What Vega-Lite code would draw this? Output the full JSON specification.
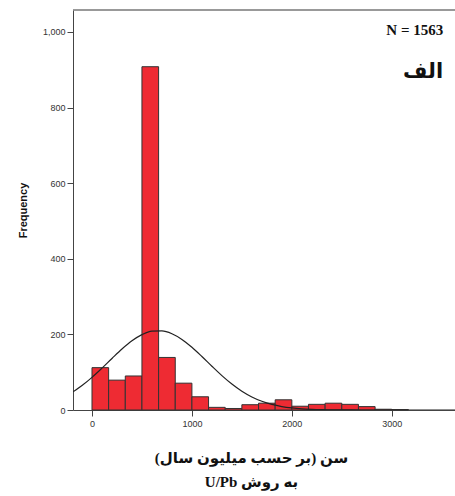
{
  "$schema": "https://vega.github.io/schema/vega-lite/v6.json",
  "width": 382,
  "height": 400,
  "autosize": "none",
  "padding": {"left": 73, "top": 10, "right": 0, "bottom": 86},
  "background": "white",
  "config": {
    "view": {"stroke": null},
    "axis": {
      "grid": false,
      "domainColor": "#444",
      "tickColor": "#444",
      "tickSize": 6,
      "labelColor": "#333",
      "labelFont": "Liberation Sans",
      "labelFontSize": 9,
      "titleColor": "#111"
    }
  },
  "datasets": {
    "bins": [
      {"start": 0, "end": 166.67, "count": 112},
      {"start": 166.67, "end": 333.33, "count": 79},
      {"start": 333.33, "end": 500, "count": 90},
      {"start": 500, "end": 666.67, "count": 908},
      {"start": 666.67, "end": 833.33, "count": 139},
      {"start": 833.33, "end": 1000, "count": 71},
      {"start": 1000, "end": 1166.67, "count": 35},
      {"start": 1166.67, "end": 1333.33, "count": 7},
      {"start": 1333.33, "end": 1500, "count": 4},
      {"start": 1500, "end": 1666.67, "count": 14},
      {"start": 1666.67, "end": 1833.33, "count": 18},
      {"start": 1833.33, "end": 2000, "count": 27},
      {"start": 2000, "end": 2166.67, "count": 10},
      {"start": 2166.67, "end": 2333.33, "count": 15},
      {"start": 2333.33, "end": 2500, "count": 18},
      {"start": 2500, "end": 2666.67, "count": 15},
      {"start": 2666.67, "end": 2833.33, "count": 9},
      {"start": 2833.33, "end": 3000, "count": 2},
      {"start": 3000, "end": 3166.67, "count": 1}
    ],
    "curve": [
      {"age": -190, "freq": 48},
      {"age": -100, "freq": 64.6},
      {"age": 0, "freq": 86.3},
      {"age": 100, "freq": 110.7},
      {"age": 200, "freq": 136.3},
      {"age": 300, "freq": 161.2},
      {"age": 400, "freq": 182.9},
      {"age": 500, "freq": 199.3},
      {"age": 600, "freq": 208.5},
      {"age": 700, "freq": 209.3},
      {"age": 800, "freq": 201.8},
      {"age": 900, "freq": 186.7},
      {"age": 1000, "freq": 165.9},
      {"age": 1100, "freq": 141.5},
      {"age": 1200, "freq": 115.8},
      {"age": 1300, "freq": 91.0},
      {"age": 1400, "freq": 68.7},
      {"age": 1500, "freq": 49.7},
      {"age": 1600, "freq": 34.6},
      {"age": 1700, "freq": 23.1},
      {"age": 1800, "freq": 14.8},
      {"age": 1900, "freq": 9.1},
      {"age": 2000, "freq": 5.4},
      {"age": 2100, "freq": 3.0},
      {"age": 2200, "freq": 1.7},
      {"age": 2300, "freq": 0.9},
      {"age": 2400, "freq": 0.4},
      {"age": 2600, "freq": 0.1},
      {"age": 2800, "freq": 0},
      {"age": 3633, "freq": 0}
    ],
    "notes": [
      {"ax": 3515, "ay": 1005, "label": "N = 1563", "size": 15},
      {"ax": 3515, "ay": 893, "label": "الف", "size": 21}
    ]
  },
  "layer": [
    {
      "data": {"name": "bins"},
      "mark": {"type": "bar", "fill": "#ee2b33", "stroke": "#333", "strokeWidth": 1},
      "encoding": {
        "x": {
          "field": "start",
          "type": "quantitative",
          "scale": {"domain": [-190, 3633], "nice": false, "zero": false},
          "axis": {
            "values": [0, 1000, 2000, 3000],
            "format": "d",
            "labelPadding": 3,
            "title": ["‏سن (بر حسب میلیون سال)‏", "U/Pb به روش"],
            "titleFont": "Liberation Serif, DejaVu Sans",
            "titleFontSize": 15,
            "titleFontWeight": "bold",
            "titlePadding": 22,
            "titleLineHeight": 24,
            "titleX": 178
          }
        },
        "x2": {"field": "end"},
        "y": {
          "field": "count",
          "type": "quantitative",
          "scale": {"domain": [0, 1058], "nice": false},
          "axis": {
            "values": [0, 200, 400, 600, 800, 1000],
            "format": ",d",
            "title": "Frequency",
            "titleFont": "Liberation Sans",
            "titleFontSize": 11,
            "titleFontWeight": "bold",
            "titlePadding": 14
          }
        },
        "y2": {"datum": 0}
      }
    },
    {
      "data": {"name": "curve"},
      "mark": {"type": "line", "color": "#222", "strokeWidth": 1.2, "interpolate": "monotone", "clip": true},
      "encoding": {
        "x": {"field": "age", "type": "quantitative"},
        "y": {"field": "freq", "type": "quantitative"}
      }
    },
    {
      "data": {"values": [{}]},
      "mark": {"type": "rule", "color": "#777", "strokeWidth": 1.5},
      "encoding": {"y": {"datum": 1058}}
    },
    {
      "data": {"name": "notes"},
      "mark": {"type": "text", "align": "right", "baseline": "middle", "font": "Liberation Serif, DejaVu Sans", "fontWeight": "bold", "color": "#111"},
      "encoding": {
        "x": {"field": "ax", "type": "quantitative"},
        "y": {"field": "ay", "type": "quantitative"},
        "text": {"field": "label"},
        "size": {"field": "size", "type": "quantitative", "scale": null}
      }
    }
  ]
}
